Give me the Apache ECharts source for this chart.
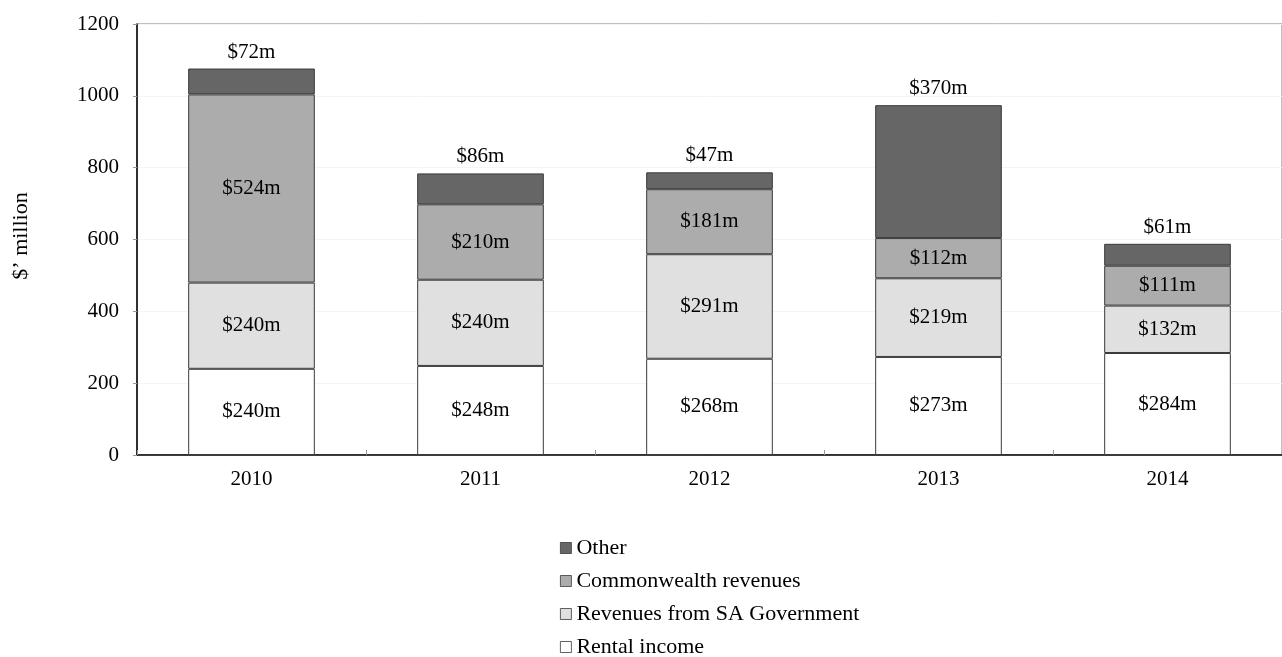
<!DOCTYPE html>
<html>
<head>
<meta charset="utf-8">
<script src="https://cdn.jsdelivr.net/npm/echarts@6/dist/echarts.min.js"></script>
<style>
  html, body { margin: 0; padding: 0; background: #ffffff; }
  #chart { width: 1282px; height: 657px; }
</style>
</head>
<body>
<div id="chart"></div>
<script>
// Revenue sources by year, $ million
const years = ['2010', '2011', '2012', '2013', '2014'];
const rentalIncome = [240, 248, 268, 273, 284];
const saGovernment = [240, 240, 291, 219, 132];
const commonwealth = [524, 210, 181, 112, 111];
const other = [72, 86, 47, 370, 61];
const yTicks = { min: 0, max: 1200, interval: 200 };

const FONT = '"Liberation Serif", "DejaVu Serif", serif';
const chart = echarts.init(document.getElementById('chart'));

function layer(name, data, color, labelPos) {
  return {
    name: name,
    type: 'bar',
    stack: 'total',
    barWidth: '55.3%',
    data: data,
    itemStyle: { color: color, borderColor: '#3a3a3a', borderWidth: 1 },
    label: {
      show: true,
      position: labelPos,
      distance: 6,
      formatter: p => '$' + p.value + 'm',
      fontFamily: FONT,
      fontSize: 21,
      color: '#000000'
    },
    emphasis: { disabled: true }
  };
}

chart.setOption({
  animation: false,
  textStyle: { fontFamily: FONT },
  grid: {
    left: 137, width: 1157, top: 24, bottom: 202,
    show: true, borderColor: '#808080', borderWidth: 1
  },
  legend: {
    orient: 'vertical',
    left: 555, top: 532,
    height: 130,
    icon: 'rect',
    itemWidth: 11, itemHeight: 11,
    itemGap: 11,
    data: ['Other', 'Commonwealth revenues', 'Revenues from SA Government', 'Rental income'],
    itemStyle: { borderWidth: 0.8, borderColor: '#3a3a3a' },
    textStyle: { fontFamily: FONT, fontSize: 22, lineHeight: 22, color: '#000000' }
  },
  xAxis: {
    type: 'category',
    data: years,
    axisLine: { lineStyle: { color: '#000000', width: 1.5 } },
    axisTick: { show: true, inside: true, length: 5, lineStyle: { color: '#999999' } },
    axisLabel: { fontFamily: FONT, fontSize: 21, color: '#000000', margin: 14 }
  },
  yAxis: {
    type: 'value',
    min: yTicks.min, max: yTicks.max, interval: yTicks.interval,
    name: '$\u2019 million',
    nameLocation: 'middle',
    nameRotate: 90,
    nameGap: 105,
    nameTextStyle: { fontFamily: FONT, fontSize: 22, color: '#000000', padding: [0, 0, 0, 7] },
    axisLine: { show: true, lineStyle: { color: '#000000', width: 1.5 } },
    axisTick: { show: true, length: 4, lineStyle: { color: '#999999' } },
    splitLine: { lineStyle: { color: '#f4f4f4' } },
    axisLabel: { fontFamily: FONT, fontSize: 21, color: '#000000', margin: 18, formatter: v => String(v) }
  },
  series: [
    layer('Rental income', rentalIncome, '#ffffff', 'inside'),
    layer('Revenues from SA Government', saGovernment, '#e0e0e0', 'inside'),
    layer('Commonwealth revenues', commonwealth, '#acacac', 'inside'),
    layer('Other', other, '#666666', 'top')
  ]
});
</script>
</body>
</html>
